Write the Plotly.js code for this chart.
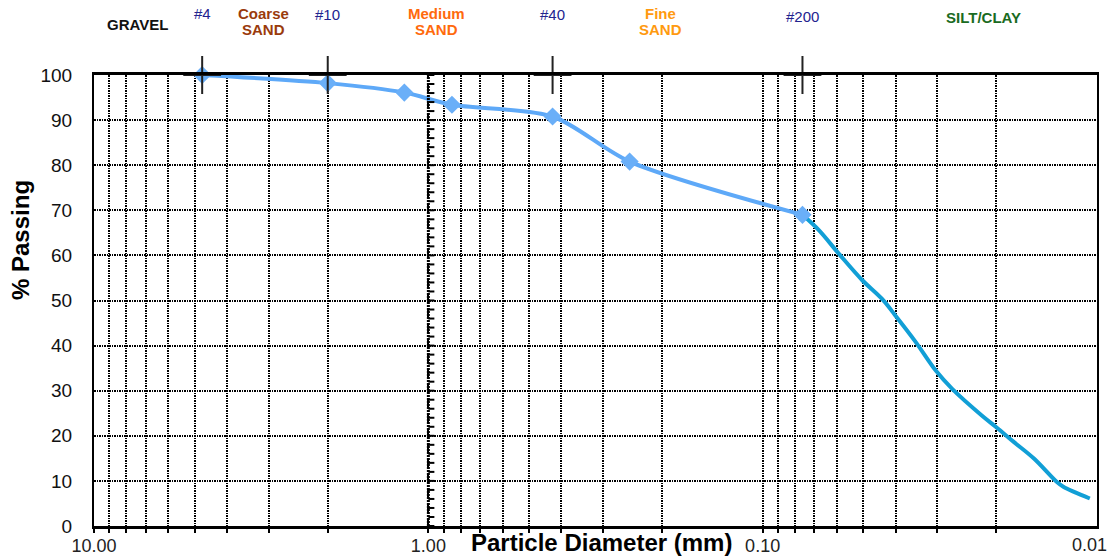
<!DOCTYPE html>
<html>
<head>
<meta charset="utf-8">
<script src="https://cdn.plot.ly/plotly-3.0.1.min.js"></script>
<style>html,body{margin:0;padding:0;background:#fff}#chart{width:1111px;height:558px}</style>
</head>
<body>
<div id="chart"></div>
<script>
// ---- data ----
const sieveSize    = [4.75, 2.0, 1.18, 0.85, 0.425, 0.25, 0.076];
const sievePassing = [100, 98.2, 96.1, 93.4, 90.8, 80.8, 69.0];
const hydroSize    = [0.076, 0.0679, 0.0592, 0.0505, 0.0440, 0.0402, 0.0350, 0.0303, 0.0271, 0.0221, 0.0200, 0.0177, 0.0154, 0.0132, 0.0126, 0.0105];
const hydroPassing = [69.0, 65.6, 60.4, 54.6, 50.4, 46.8, 41.0, 34.4, 30.4, 24.5, 21.9, 18.6, 14.9, 9.8, 8.7, 6.1];
const sieveNames    = ['#4', '#10', '#40', '#200'];
const sieveOpenings = [4.75, 2.0, 0.425, 0.076];
const soilClassLines = [['GRAVEL'], ['Coarse', 'SAND'], ['Medium', 'SAND'], ['Fine', 'SAND'], ['SILT/CLAY']];
const xTickVals = [10, 1, 0.1, 0.01];
const xTickText = ['10.00', '1.00', '0.10', '0.01'];
const yTickVals = [0, 10, 20, 30, 40, 50, 60, 70, 80, 90, 100];

// ---- layout helpers (pixel -> paper) ----
const W = 1111, H = 558, ML = 94, MR = 14, MT = 75, MB = 32;
const PW = W - ML - MR, PH = H - MT - MB;
const px = p => (p - ML) / PW;
const py = p => (H - MB - p) / PH;

const FONT = 'Liberation Sans, Arial, sans-serif';
const classStyle = [
  {x: 137, y: [24], color: '#111111'},
  {x: 263, y: [13, 30], color: '#9a3b0c'},
  {x: 436, y: [13, 30], color: '#ff6a0d'},
  {x: 660, y: [13, 30], color: '#ff9a10'},
  {x: 983, y: [18], color: '#1a6b22'}
];
const sieveLabelY = [13, 15, 15, 17];

// minor log grid values (2..9 of each decade)
const minorVals = [];
[1, 0.1, 0.01].forEach(b => { for (let d = 2; d <= 9; d++) minorVals.push(+(d * b).toPrecision(3)); });

const GRID_DASH = '1.5px,1px';

const traces = [
  {
    x: hydroSize, y: hydroPassing, type: 'scatter', mode: 'lines',
    line: {color: '#119fd6', width: 4, shape: 'spline', smoothing: 1},
    hoverinfo: 'x+y', showlegend: false
  },
  {
    x: sieveSize, y: sievePassing, type: 'scatter', mode: 'lines+markers',
    line: {color: '#5ea9f8', width: 4, shape: 'spline', smoothing: 0.8},
    marker: {symbol: 'diamond', size: 14, color: '#6aaff8'},
    cliponaxis: false, showlegend: false
  },
  {
    x: sieveOpenings, y: sieveOpenings.map(() => 100), type: 'scatter', mode: 'markers',
    marker: {symbol: 'cross-thin', size: 27, color: '#222', line: {width: 2, color: '#222'}},
    cliponaxis: false, showlegend: false, hoverinfo: 'skip'
  }
];

// vertical axis-like line at x = 1 with crossing ticks
const shapes = [{
  type: 'line', xref: 'x', yref: 'y', x0: 1, x1: 1, y0: 0, y1: 100,
  line: {color: '#000', width: 3, dash: '2px,1px'}, layer: 'above'
}];
for (let v = 0; v <= 100; v += 2) {
  shapes.push({
    type: 'line', xref: 'x', yref: 'y', xsizemode: 'pixel', xanchor: 1,
    x0: -6, x1: 6, y0: v, y1: v, line: {color: '#000', width: 2}, layer: 'above'
  });
}

const annotations = [];
soilClassLines.forEach((lines, i) => lines.forEach((t, j) => annotations.push({
  text: '<b>' + t + '</b>', xref: 'paper', yref: 'paper', x: px(classStyle[i].x), y: py(classStyle[i].y[j]),
  xanchor: 'center', yanchor: 'middle', showarrow: false,
  font: {family: FONT, size: 15, color: classStyle[i].color}
})));
sieveNames.forEach((t, i) => annotations.push({
  text: t, xref: 'x', yref: 'paper', x: Math.log10(sieveOpenings[i]), y: py(sieveLabelY[i]),
  xanchor: 'center', yanchor: 'middle', showarrow: false,
  font: {family: FONT, size: 15, color: '#23238f'}
}));
// last x tick label, nudged inside the page like the reference
annotations.push({
  text: xTickText[3], xref: 'x', yref: 'paper', x: Math.log10(xTickVals[3]), xshift: -7, y: py(545),
  xanchor: 'center', yanchor: 'middle', showarrow: false,
  font: {family: FONT, size: 18, color: '#222'}
});
annotations.push({
  text: '<b>Particle Diameter (mm)</b>', xref: 'paper', yref: 'paper', x: px(601), y: py(542),
  xanchor: 'center', yanchor: 'middle', showarrow: false,
  font: {family: FONT, size: 24, color: '#000'}
});
annotations.push({
  text: '<b>% Passing</b>', xref: 'paper', yref: 'paper', x: px(20), y: py(240), textangle: -90,
  xanchor: 'center', yanchor: 'middle', showarrow: false,
  font: {family: FONT, size: 24, color: '#000'}
});

const layout = {
  width: W, height: H,
  margin: {l: ML, r: MR, t: MT, b: MB, pad: 0},
  paper_bgcolor: '#fff', plot_bgcolor: '#fff',
  showlegend: false,
  font: {family: FONT, color: '#111'},
  xaxis: {
    type: 'log', range: [1.0003, -2.0003], autorange: false,
    tickmode: 'array', tickvals: xTickVals.slice(0, 3), ticktext: xTickText.slice(0, 3),
    ticks: 'outside', ticklen: 4, tickcolor: '#000', tickwidth: 2,
    tickfont: {family: FONT, size: 18, color: '#222'}, ticklabelstandoff: -3,
    showgrid: true, gridcolor: '#000', gridwidth: 2, griddash: GRID_DASH,
    minor: {tickmode: 'array', tickvals: minorVals, showgrid: true, gridcolor: '#000', gridwidth: 2,
            griddash: GRID_DASH, ticks: 'outside', ticklen: 4, tickcolor: '#000', tickwidth: 2},
    showline: true, linecolor: '#000', linewidth: 3, mirror: true,
    zeroline: false, automargin: false, fixedrange: true
  },
  yaxis: {
    range: [0, 100], autorange: false,
    tickmode: 'array', tickvals: yTickVals,
    ticks: '', tickfont: {family: FONT, size: 19, color: '#111'}, ticklabelstandoff: 16,
    showgrid: true, gridcolor: '#000', gridwidth: 2, griddash: GRID_DASH,
    showline: true, linecolor: '#000', linewidth: 2, mirror: true,
    zeroline: false, automargin: false, fixedrange: true
  },
  shapes: shapes,
  annotations: annotations
};

Plotly.newPlot('chart', traces, layout, {staticPlot: true, displayModeBar: false});
</script>
</body>
</html>
